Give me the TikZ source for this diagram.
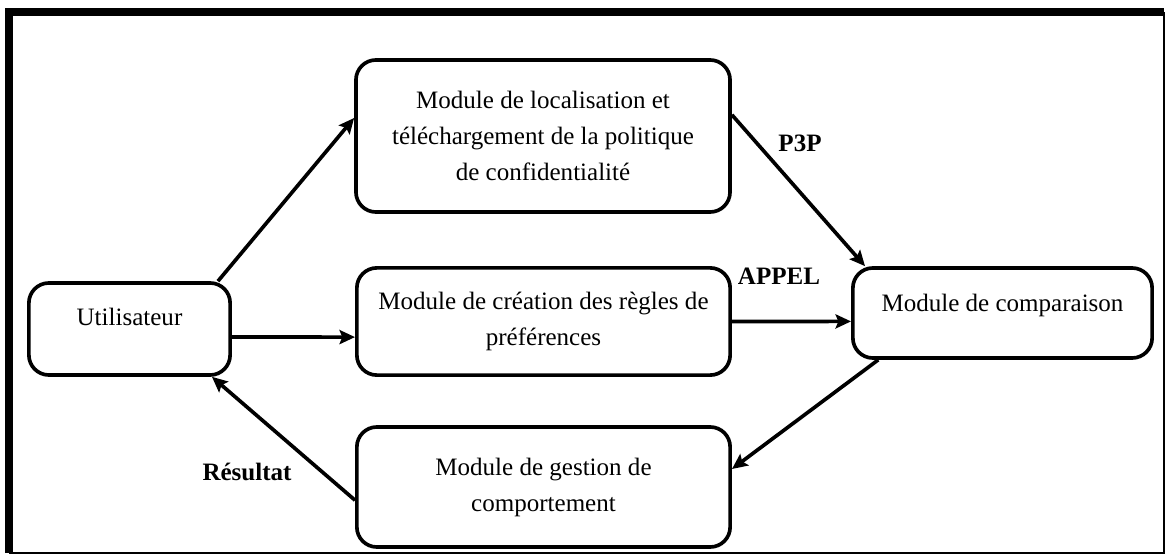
\documentclass[tikz,border=0pt]{standalone}
\usepackage{fontspec}
\setmainfont{Liberation Serif}
\usetikzlibrary{arrows.meta}

\tikzset{
  module/.style={draw, line width=2.6pt, rounded corners=0.5cm, align=center,
    inner sep=0pt, font=\fontsize{17.8}{25.6}\selectfont},
  tag/.style={font=\fontsize{17.8}{20}\selectfont\bfseries},
  link/.style={line width=2.6pt, ->},
  >={Stealth[length=11pt,width=10pt,inset=2pt]}
}

\begin{document}
\begin{tikzpicture}[x=0.025cm,y=-0.025cm]
\useasboundingbox (0,0) rectangle (1168,557);
% cadre
\draw[line width=0.2cm] (9,553) -- (9,12) -- (1164,12);
\draw[line width=0.07cm] (1164,12) -- (1164,553) -- (9,553);

\node[module, minimum width=5.03cm, minimum height=2.3cm, text depth=0.6cm] (user) at (129.5,329) {Utilisateur};
\node[module, minimum width=9.35cm, minimum height=3.8cm] (locate) at (543,136) {Module de localisation et\\t\'el\'echargement de la politique\\de confidentialit\'e};
\node[module, minimum width=9.33cm, minimum height=2.68cm] (rules) at (543.5,321.5) {Module de cr\'eation des r\`egles de\\pr\'ef\'erences};
\node[module, minimum width=9.33cm, minimum height=3cm] (behave) at (543.5,487) {Module de gestion de\\comportement};
\node[module, minimum width=7.48cm, minimum height=2.25cm, text depth=0.5cm] (compare) at (1002.5,313) {Module de comparaison};

\node[tag] (p3p) at (800,143) {P3P};
\node[tag] (appel) at (779,276) {APPEL};
\node[tag] (res) at (247,472) {R\'esultat};

\draw[link] ([xshift=-0.35cm]user.north east) -- ([yshift=0.45cm]locate.west);
\draw[link] ([yshift=-0.2cm]user.east) -- ([yshift=-0.39cm]rules.west);
\draw[link] ([yshift=0.53cm]locate.east) -- ([xshift=0.35cm]compare.north west);
\draw[link] (rules.east) -- ([yshift=-0.21cm]compare.west);
\draw[link] ([xshift=0.68cm]compare.south west) -- ([yshift=0.45cm]behave.east);
\draw[link] ([yshift=-0.33cm]behave.west) -- ([xshift=-0.5cm]user.south east);

\end{tikzpicture}
\end{document}
